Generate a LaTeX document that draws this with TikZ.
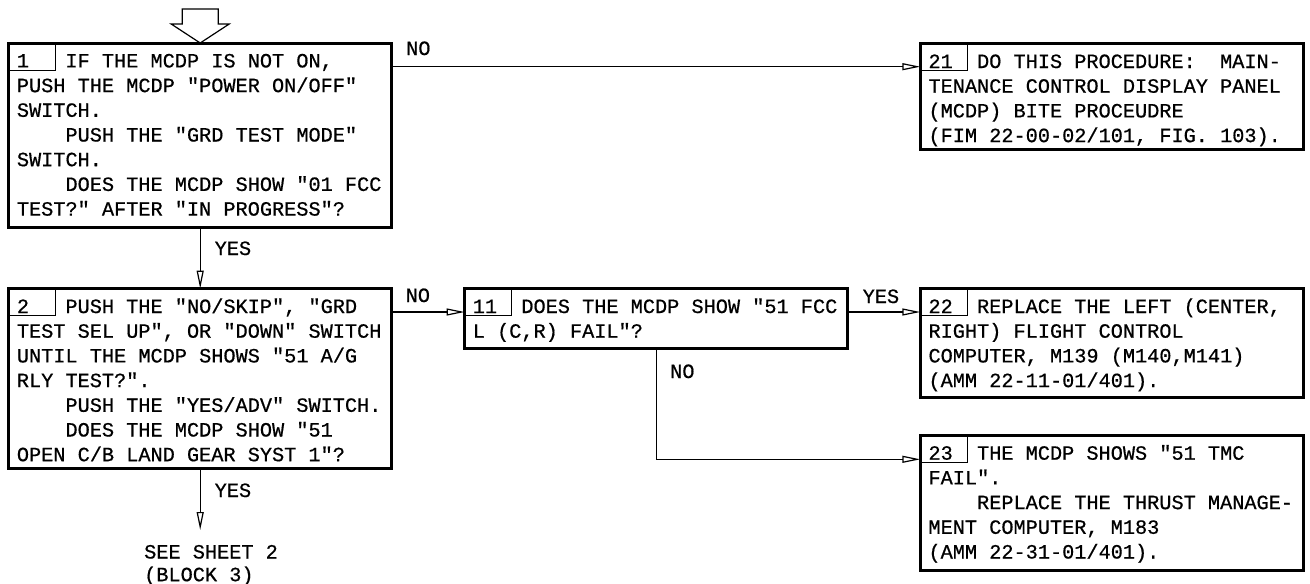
\documentclass[tikz,border=0pt]{standalone}
\usepackage{fontspec}
\newfontfamily\dmono[FakeBold=0.6]{Liberation Mono}
\usetikzlibrary{arrows.meta,calc}
\newdimen\chw \chw=12.15pt
\newcommand\ind{\hspace*{4\chw}}
\newcommand\numb[1]{\makebox[4\chw][l]{#1}}
\newcommand\tstrut{\rule{0pt}{18pt}}
\begin{document}
\begin{tikzpicture}[x=1pt,y=-1pt,
 box/.style={draw, line width=3pt, minimum width=383pt, anchor=north west, inner sep=0pt, outer sep=0pt},
 numbox/.style={draw, line width=1pt, minimum width=47pt, minimum height=27pt, anchor=north west, inner sep=0pt, outer sep=0pt},
 txt/.style={font=\dmono\fontsize{20.25}{24.7}\selectfont\frenchspacing, align=left, inner sep=0pt, anchor=north west},
 lbl/.style={font=\dmono\fontsize{20.25}{24.7}\selectfont, inner sep=0pt, anchor=base west},
 conn/.style={line width=1.2pt, -{Triangle[open,length=18pt,width=7pt]}},
 line/.style={line width=1.2pt},
]
\useasboundingbox (0,0) rectangle (1310,584);

% boxes
\node[box, minimum height=184.7pt] (b1) at (8.7,43) {};
\node[box, minimum height=179.4pt] (b2) at (8.7,288.6) {};
\node[box, minimum height=59.4pt] (b11) at (464.6,288.6) {};
\node[box, minimum height=106pt] (b21) at (920.3,43.6) {};
\node[box, minimum height=109pt] (b22) at (920.3,288.6) {};
\node[box, minimum height=135pt] (b23) at (920.3,435.3) {};

% number boxes
\foreach \b in {b1,b2,b11,b21,b22,b23}{
  \node[numbox] (n\b) at (\b.north west) {};
}

% texts
\node[txt] (t1) at ([shift={(8pt,-6.2pt)}]b1.north west) {\tstrut\numb{1}IF THE MCDP IS NOT ON,\\PUSH THE MCDP "POWER ON/OFF"\\SWITCH.\\\ind PUSH THE "GRD TEST MODE"\\SWITCH.\\\ind DOES THE MCDP SHOW "01 FCC\\TEST?" AFTER "IN PROGRESS"?};
\node[txt] (t2) at ([shift={(8pt,-6.2pt)}]b2.north west) {\tstrut\numb{2}PUSH THE "NO/SKIP", "GRD\\TEST SEL UP", OR "DOWN" SWITCH\\UNTIL THE MCDP SHOWS "51 A/G\\RLY TEST?".\\\ind PUSH THE "YES/ADV" SWITCH.\\\ind DOES THE MCDP SHOW "51\\OPEN C/B LAND GEAR SYST 1"?};
\node[txt] (t11) at ([shift={(8pt,-6.2pt)}]b11.north west) {\tstrut\numb{11}DOES THE MCDP SHOW "51 FCC\\L (C,R) FAIL"?};
\node[txt] (t21) at ([shift={(8pt,-6.2pt)}]b21.north west) {\tstrut\numb{21}DO THIS PROCEDURE:\ \ MAIN-\\TENANCE CONTROL DISPLAY PANEL\\(MCDP) BITE PROCEUDRE\\(FIM 22-00-02/101, FIG. 103).};
\node[txt] (t22) at ([shift={(8pt,-6.2pt)}]b22.north west) {\tstrut\numb{22}REPLACE THE LEFT (CENTER,\\RIGHT) FLIGHT CONTROL\\COMPUTER, M139 (M140,M141)\\(AMM 22-11-01/401).};
\node[txt] (t23) at ([shift={(8pt,-6.2pt)}]b23.north west) {\tstrut\numb{23}THE MCDP SHOWS "51 TMC\\FAIL".\\\ind REPLACE THE THRUST MANAGE-\\MENT COMPUTER, M183\\(AMM 22-31-01/401).};

% entry arrow
\draw[line] ([shift={(-18pt,34pt)}]b1.north) -- ([shift={(18pt,34pt)}]b1.north) -- ([shift={(18pt,19pt)}]b1.north) -- ([shift={(29pt,19pt)}]b1.north) -- (b1.north) -- ([shift={(-29pt,19pt)}]b1.north) -- ([shift={(-18pt,19pt)}]b1.north) -- cycle;

% connector anchor points
\path ([yshift=-23.7pt]b1.north east) coordinate (p1);
\path ([yshift=-23.4pt]b2.north east) coordinate (p2);
\path ([yshift=-23.4pt]b11.north east) coordinate (p11);
\path ([yshift=-24pt]b23.north west) coordinate (p23);
\path ([yshift=-62pt]b2.south) coordinate (e2);

% connectors
\draw[conn] (p1) -- (p1 -| b21.west);
\draw[conn] (b1.south) -- (b2.north);
\draw[conn] (p2) -- (p2 -| b11.west);
\draw[conn] (p11) -- (p11 -| b22.west);
\draw[conn] (b11.south) |- (p23);
\draw[conn] (b2.south) -- (e2);

% labels
\node[lbl] (l1) at (406,55) {NO};
\node[lbl] (l2) at (214.5,255) {YES};
\node[lbl] (l3) at (405.5,302) {NO};
\node[lbl] (l4) at (862.5,303) {YES};
\node[lbl] (l5) at (670,378) {NO};
\node[lbl] (l6) at (214.5,497) {YES};
\node[txt, font=\dmono\fontsize{20.25}{22.7}\selectfont] (see) at (144,540.3) {\tstrut SEE SHEET 2\\(BLOCK 3)};
\end{tikzpicture}
\end{document}
